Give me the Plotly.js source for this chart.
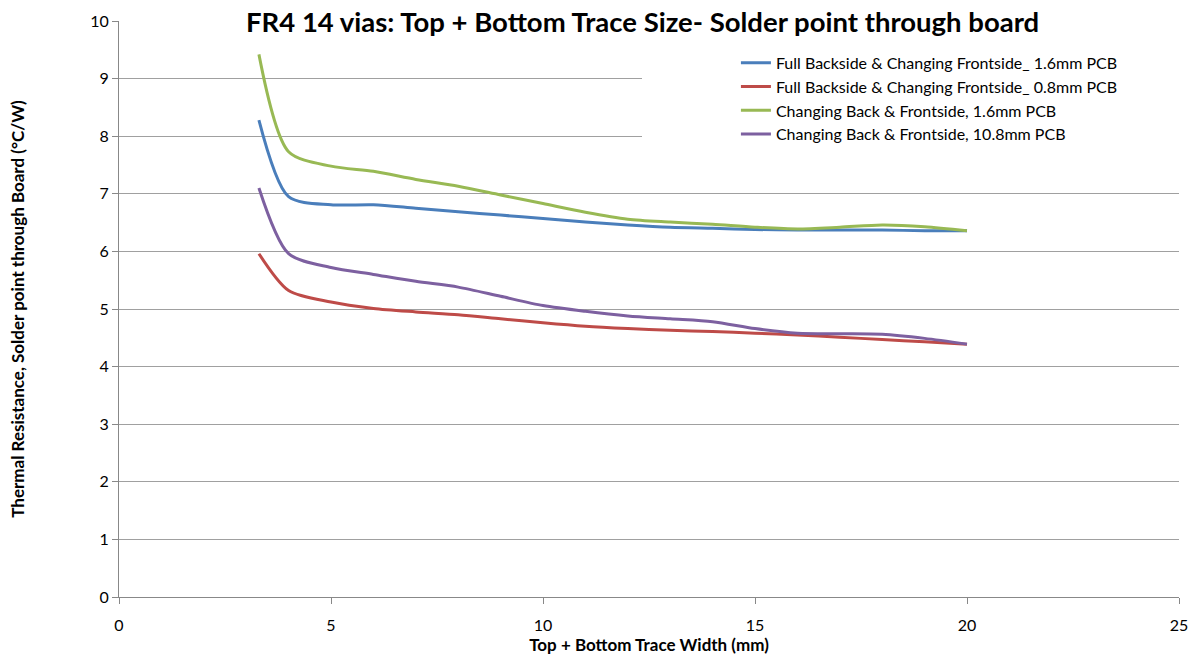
<!DOCTYPE html>
<html><head><meta charset="utf-8">
<script src="https://cdn.plot.ly/plotly-3.0.1.min.js"></script>
<style>html,body{margin:0;padding:0;background:#fff}#chart{width:1190px;height:656px}</style>
</head><body><div id="chart"></div>
<script>
const xWidth = [3.3, 4, 5, 6, 7, 8, 9, 10, 11, 12, 13, 14, 15, 16, 17, 18, 19, 20];
const fullBack16 = [8.28, 6.95, 6.81, 6.81, 6.75, 6.69, 6.63, 6.57, 6.51, 6.46, 6.42, 6.40, 6.38, 6.37, 6.37, 6.37, 6.36, 6.36];
const fullBack08 = [5.96, 5.32, 5.12, 5.01, 4.95, 4.90, 4.83, 4.76, 4.70, 4.66, 4.63, 4.61, 4.58, 4.55, 4.51, 4.47, 4.43, 4.39];
const changing16 = [9.42, 7.73, 7.48, 7.39, 7.25, 7.13, 6.98, 6.83, 6.68, 6.56, 6.51, 6.47, 6.42, 6.39, 6.42, 6.46, 6.43, 6.36];
const changing108 = [7.10, 5.96, 5.72, 5.60, 5.48, 5.38, 5.22, 5.06, 4.96, 4.88, 4.83, 4.78, 4.66, 4.58, 4.57, 4.56, 4.49, 4.39];
const seriesNames = [
  "Full Backside & Changing Frontside_ 1.6mm PCB",
  "Full Backside & Changing Frontside_ 0.8mm PCB",
  "Changing Back & Frontside, 1.6mm PCB",
  "Changing Back & Frontside, 10.8mm PCB"
];
const seriesColors = ["#4a7ebb", "#be4b48", "#98b954", "#7d60a0"];
const seriesValues = [fullBack16, fullBack08, changing16, changing108];

const FONT = "Lato, 'Open Sans', sans-serif";
const traces = seriesValues.map((v, i) => ({
  x: xWidth, y: v, type: "scatter", mode: "lines", name: seriesNames[i],
  line: {color: seriesColors[i], width: 3, shape: "spline", smoothing: 0.8}
}));

const layout = {
  width: 1190, height: 656,
  margin: {l: 119, r: 11, t: 21, b: 59},
  paper_bgcolor: "#fff", plot_bgcolor: "#fff",
  font: {family: FONT, size: 16, color: "#000"},
  showlegend: true,
  legend: {x: 0.582, xanchor: "left", y: 0.957, yanchor: "top",
    bgcolor: "rgba(0,0,0,0)", font: {family: FONT, size: 16, color: "#000"},
    tracegroupgap: 0, itemwidth: 30},
  xaxis: {range: [0, 25], tickvals: [0,5,10,15,20,25], ticks: "outside", ticklen: 6,
    tickcolor: "#888", showline: true, linecolor: "#888", linewidth: 1, showgrid: false,
    zeroline: false, tickfont: {family: FONT, size: 16}, ticklabelstandoff: 8,
    ticklabeloverflow: "allow",
    title: {text: "<b>Top + Bottom Trace Width (mm)</b>", font: {family: FONT, size: 17}, standoff: 0}},
  yaxis: {range: [0, 10], dtick: 1, ticks: "outside", ticklen: 6, tickcolor: "#888",
    showline: true, linecolor: "#888", linewidth: 1, showgrid: true, gridcolor: "#a0a0a0",
    gridwidth: 1, zeroline: false, tickfont: {family: FONT, size: 16},
    title: {text: "<b>Thermal Resistance, Solder point through Board (°C/W)</b>", font: {family: FONT, size: 17}, standoff: 61}},
  shapes: [{type: "rect", xref: "paper", yref: "y", x0: 0.4934, x1: 1, y0: 7.97, y1: 9.7,
    fillcolor: "#fff", line: {width: 0}, layer: "above"}],
  annotations: [{xref: "paper", yref: "paper", x: 0.494, y: 1, xanchor: "center", yanchor: "middle",
    text: "<b>FR4 14 vias: Top + Bottom Trace Size- Solder point through board</b>",
    showarrow: false, bgcolor: "#fff", borderpad: 2, font: {family: FONT, size: 27.5, color: "#000"}}]
};
Plotly.newPlot("chart", traces, layout, {displayModeBar: false, staticPlot: true});
</script></body></html>
